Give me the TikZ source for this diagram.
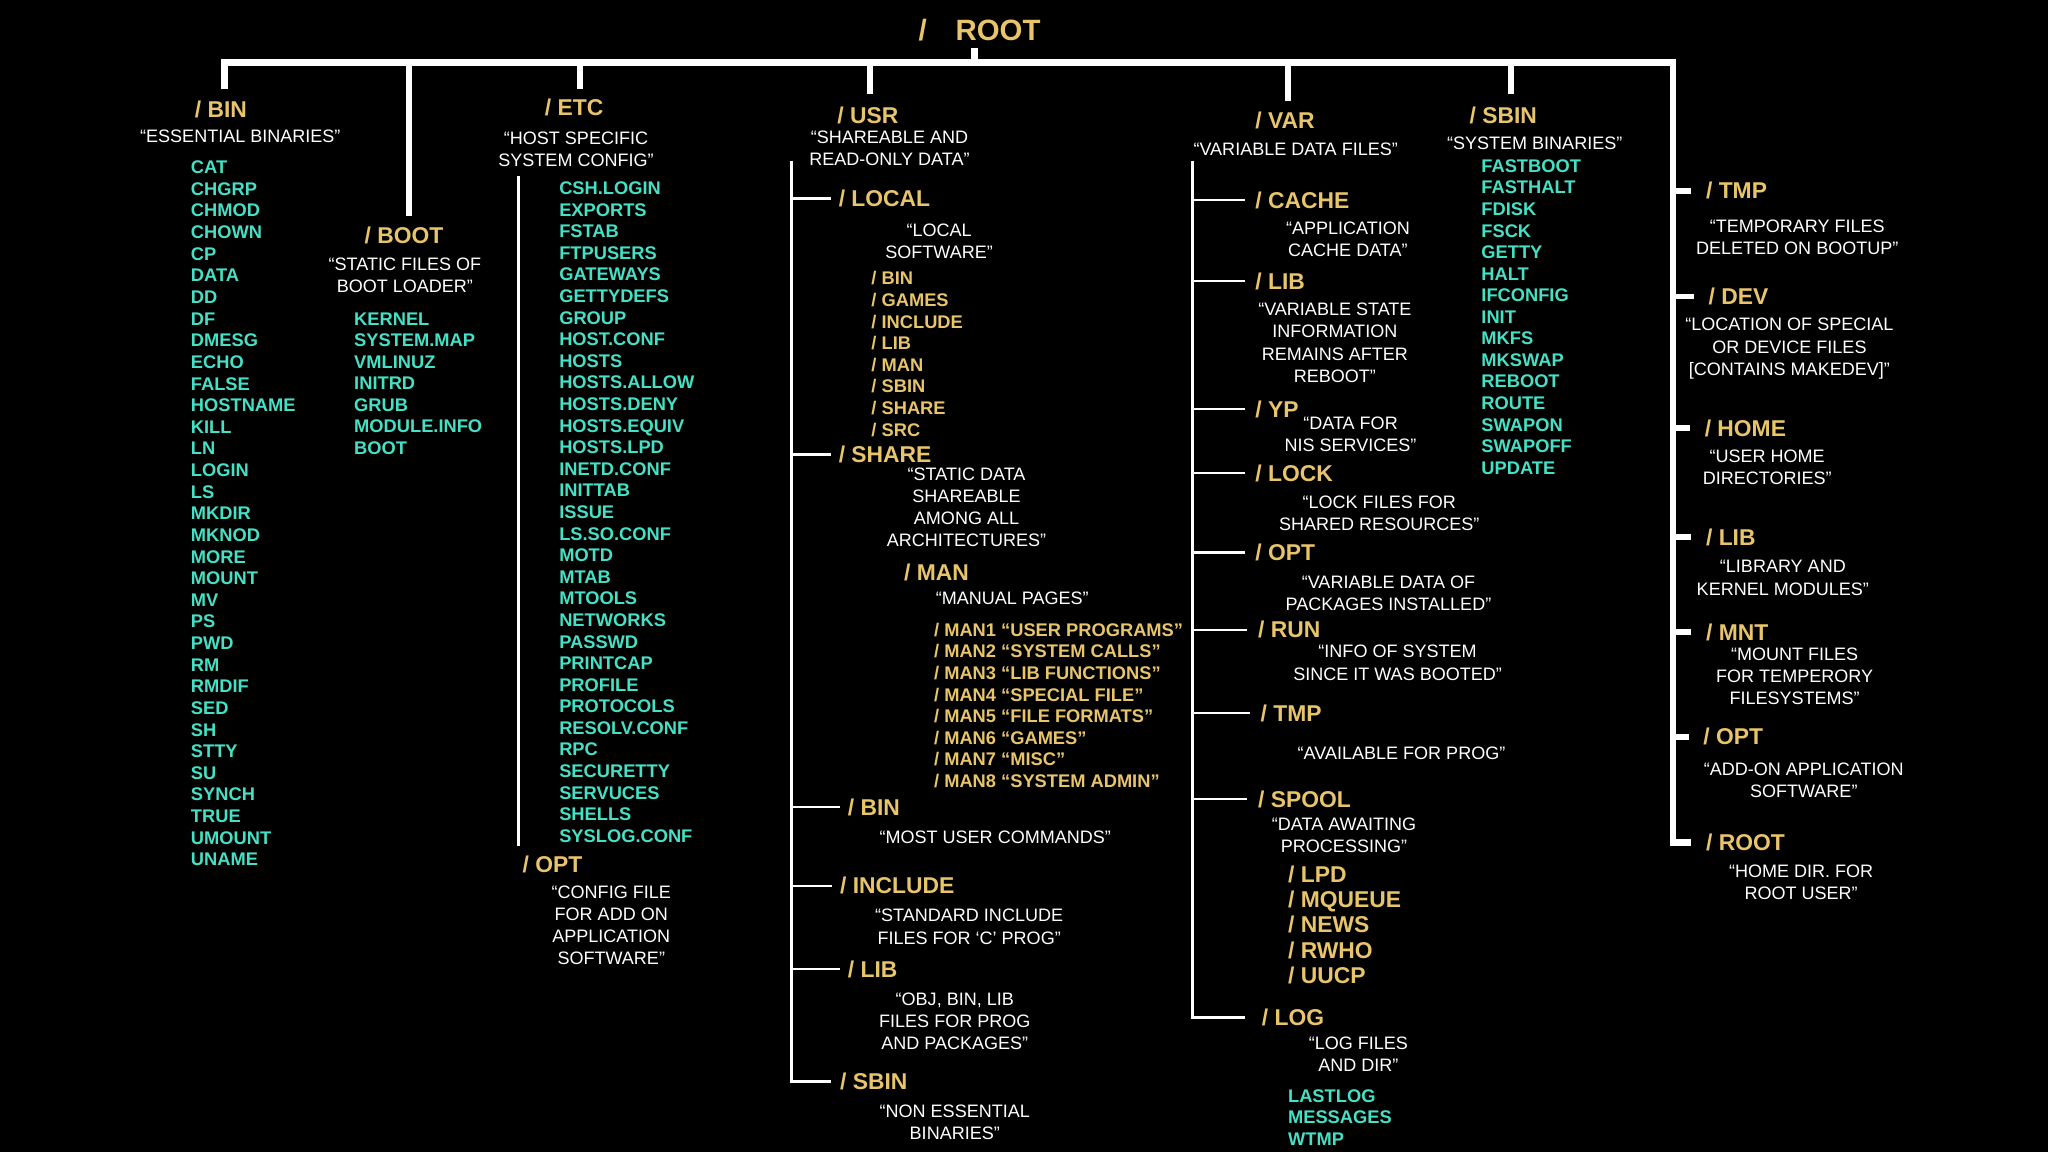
\documentclass[tikz,border=0pt]{standalone}
\usepackage{fontspec}
\setmainfont{Liberation Sans}
\definecolor{dirgold}{HTML}{E8C46A}
\definecolor{filecyan}{HTML}{45E0C5}
\tikzset{
	dir/.style={anchor=west,inner sep=0pt,text=dirgold,font=\fontsize{17.5}{20}\selectfont\bfseries,text height=12.6pt,text depth=0pt},
	subdir/.style={dir,font=\fontsize{14}{16}\selectfont\bfseries,text height=10pt},
	file/.style={anchor=west,inner sep=0pt,text=filecyan,font=\fontsize{14}{16}\selectfont\bfseries,text height=10pt,text depth=0pt},
	note/.style={inner sep=0pt,text=white,align=center,font=\fontsize{13.8}{17}\selectfont},
	trunk/.style={draw=white,line width=5pt},
	twig/.style={draw=white,line width=1.6pt}
}
\begin{document}
\begin{tikzpicture}[x=1pt,y=-1pt]
		\fill[black] (0,0) rectangle (1568,882);
		\useasboundingbox (0,0) rectangle (1568,882);
		\node[inner sep=0pt,text=dirgold,font=\fontsize{22.5}{26}\selectfont\bfseries] (root) at (750,23) {/\hspace{22pt}ROOT};
		\coordinate (rootStem) at (746,37);
		\coordinate (barL) at (172,48);
		\coordinate (barR) at (1281,48);
		\coordinate (binDrop) at (172,68);
		\coordinate (bootDrop) at (313,165);
		\coordinate (etcDrop) at (444,68);
		\coordinate (usrDrop) at (666,72);
		\coordinate (varDrop) at (986,77);
		\coordinate (sbinDrop) at (1157,72);
		\coordinate (etcTop) at (397,135);
		\coordinate (etcBot) at (397,648);
		\coordinate (usrTop) at (606,123);
		\coordinate (varTop) at (913,123);
		\node[dir] (bin) at (149,84) {/ BIN};
		\node[note] (bindesc) at (184,104) {“ESSENTIAL BINARIES”};
		\foreach \f [count=\i] in {CAT,CHGRP,CHMOD,CHOWN,CP,DATA,DD,DF,DMESG,ECHO,FALSE,HOSTNAME,KILL,LN,LOGIN,LS,MKDIR,MKNOD,MORE,MOUNT,MV,PS,PWD,RM,RMDIF,SED,SH,STTY,SU,SYNCH,TRUE,UMOUNT,UNAME}
			\node[file] (binf\i) at (146,{128+16.56*(\i-1)}) {\f};
		\node[dir] (boot) at (279,180) {/ BOOT};
		\node[note] (bootdesc) at (310,210.5) {“STATIC FILES OF\\BOOT LOADER”};
		\foreach \f [count=\i] in {KERNEL,SYSTEM.MAP,VMLINUZ,INITRD,GRUB,MODULE.INFO,BOOT}
			\node[file] (bootf\i) at (271,{244+16.5*(\i-1)}) {\f};
		\node[dir] (etc) at (417,82) {/ ETC};
		\node[note] (etcdesc) at (441,114.5) {“HOST SPECIFIC\\SYSTEM CONFIG”};
		\foreach \f [count=\i] in {CSH.LOGIN,EXPORTS,FSTAB,FTPUSERS,GATEWAYS,GETTYDEFS,GROUP,HOST.CONF,HOSTS,HOSTS.ALLOW,HOSTS.DENY,HOSTS.EQUIV,HOSTS.LPD,INETD.CONF,INITTAB,ISSUE,LS.SO.CONF,MOTD,MTAB,MTOOLS,NETWORKS,PASSWD,PRINTCAP,PROFILE,PROTOCOLS,RESOLV.CONF,RPC,SECURETTY,SERVUCES,SHELLS,SYSLOG.CONF}
			\node[file] (etcf\i) at (428,{144+16.53*(\i-1)}) {\f};
		\node[dir] (etcopt) at (400,662) {/ OPT};
		\node[note] (etcoptdesc) at (468,708.5) {“CONFIG FILE\\FOR ADD ON\\APPLICATION\\SOFTWARE”};
		\node[dir] (usr) at (641,88) {/ USR};
		\node[note] (usrdesc) at (681,113.5) {“SHAREABLE AND\\READ-ONLY DATA”};
		\node[dir] (uslocal) at (642,152) {/ LOCAL};
		\node[note] (uslocaldesc) at (719,184.5) {“LOCAL\\SOFTWARE”};
		\foreach \f [count=\i] in {BIN,GAMES,INCLUDE,LIB,MAN,SBIN,SHARE,SRC}
			\node[subdir] (uslocalf\i) at (667,{213+16.57*(\i-1)}) {/ \f};
		\node[dir] (usshare) at (642,348) {/ SHARE};
		\node[note] (ussharedesc) at (740,388.5) {“STATIC DATA\\SHAREABLE\\AMONG ALL\\ARCHITECTURES”};
		\node[dir] (usman) at (692,438) {/ MAN};
		\node[note] (usmandesc) at (775,458) {“MANUAL PAGES”};
		\foreach \f [count=\i] in {USER PROGRAMS,SYSTEM CALLS,LIB FUNCTIONS,SPECIAL FILE,FILE FORMATS,GAMES,MISC,SYSTEM ADMIN}
			\node[subdir] (usmanf\i) at (715,{482+16.57*(\i-1)}) {/ MAN\i\ “\f”};
		\node[dir] (usbin) at (649,618) {/ BIN};
		\node[note] (usbindesc) at (762,641) {“MOST USER COMMANDS”};
		\node[dir] (usinclude) at (643,678) {/ INCLUDE};
		\node[note] (usincludedesc) at (742,709.5) {“STANDARD INCLUDE\\FILES FOR ‘C’ PROG”};
		\node[dir] (uslib) at (649,742) {/ LIB};
		\node[note] (uslibdesc) at (731,782) {“OBJ, BIN, LIB\\FILES FOR PROG\\AND PACKAGES”};
		\node[dir] (ussbin) at (643,828) {/ SBIN};
		\node[note] (ussbindesc) at (731,859.5) {“NON ESSENTIAL\\BINARIES”};
		\node[dir] (var) at (961,92) {/ VAR};
		\node[note] (vardesc) at (992,114) {“VARIABLE DATA FILES”};
		\node[dir] (vacache) at (961,153) {/ CACHE};
		\node[note] (vacachedesc) at (1032,183) {“APPLICATION\\CACHE DATA”};
		\node[dir] (valib) at (961,215) {/ LIB};
		\node[note] (valibdesc) at (1022,262.5) {“VARIABLE STATE\\INFORMATION\\REMAINS AFTER\\REBOOT”};
		\node[dir] (vayp) at (961,313) {/ YP};
		\node[note] (vaypdesc) at (1034,332.5) {“DATA FOR\\NIS SERVICES”};
		\node[dir] (valock) at (961,362) {/ LOCK};
		\node[note] (valockdesc) at (1056,393) {“LOCK FILES FOR\\SHARED RESOURCES”};
		\node[dir] (vaopt) at (961,423) {/ OPT};
		\node[note] (vaoptdesc) at (1063,454) {“VARIABLE DATA OF\\PACKAGES INSTALLED”};
		\node[dir] (varun) at (963,482) {/ RUN};
		\node[note] (varundesc) at (1070,507.5) {“INFO OF SYSTEM\\SINCE IT WAS BOOTED”};
		\node[dir] (vatmp) at (965,546) {/ TMP};
		\node[note] (vatmpdesc) at (1073,577) {“AVAILABLE FOR PROG”};
		\node[dir] (vaspool) at (963,612) {/ SPOOL};
		\node[note] (vaspooldesc) at (1029,639.5) {“DATA AWAITING\\PROCESSING”};
		\foreach \f [count=\i] in {LPD,MQUEUE,NEWS,RWHO,UUCP}
			\node[dir] (vaspoolf\i) at (986,{669+19.5*(\i-1)}) {/ \f};
		\node[dir] (valog) at (966,779) {/ LOG};
		\node[note] (valogdesc) at (1040,807) {“LOG FILES\\AND DIR”};
		\foreach \f [count=\i] in {LASTLOG,MESSAGES,WTMP}
			\node[file] (valogf\i) at (986,{839+16.5*(\i-1)}) {\f};
		\node[dir] (sbin) at (1125,88) {/ SBIN};
		\node[note] (sbindesc) at (1175,110) {“SYSTEM BINARIES”};
		\foreach \f [count=\i] in {FASTBOOT,FASTHALT,FDISK,FSCK,GETTY,HALT,IFCONFIG,INIT,MKFS,MKSWAP,REBOOT,ROUTE,SWAPON,SWAPOFF,UPDATE}
			\node[file] (sbinf\i) at (1134,{127+16.5*(\i-1)}) {\f};
		\node[dir] (rtmp) at (1306,146) {/ TMP};
		\node[note] (rtmpdesc) at (1376,181.5) {“TEMPORARY FILES\\DELETED ON BOOTUP”};
		\node[dir] (rdev) at (1308,227) {/ DEV};
		\node[note] (rdevdesc) at (1370,267) {“LOCATION OF SPECIAL\\OR DEVICE FILES\\ {[}CONTAINS MAKEDEV]”};
		\node[dir] (rhome) at (1305,328) {/ HOME};
		\node[note] (rhomedesc) at (1353,357.5) {“USER HOME\\DIRECTORIES”};
		\node[dir] (rlib) at (1306,411) {/ LIB};
		\node[note] (rlibdesc) at (1365,442.5) {“LIBRARY AND\\KERNEL MODULES”};
		\node[dir] (rmnt) at (1306,484) {/ MNT};
		\node[note] (rmntdesc) at (1374,518) {“MOUNT FILES\\FOR TEMPERORY\\FILESYSTEMS”};
		\node[dir] (ropt) at (1304,564) {/ OPT};
		\node[note] (roptdesc) at (1381,597.5) {“ADD-ON APPLICATION\\SOFTWARE”};
		\node[dir] (rroot) at (1306,645) {/ ROOT};
		\node[note] (rrootdesc) at (1379,675.5) {“HOME DIR. FOR\\ROOT USER”};
		\draw[trunk] (rootStem) -- (rootStem |- barL);
		\draw[trunk,shorten >=11pt] (binDrop) |- (barR) |- (rroot.west);
		\foreach \c in {bootDrop,etcDrop,usrDrop,varDrop,sbinDrop}
			\draw[trunk] (barL -| \c) -- (\c);
		\foreach \n in {rtmp,rdev,rhome,rlib,rmnt,ropt}
			\draw[trunk,line width=4.5pt,shorten >=11pt] (barR |- \n.west) -- (\n.west);
		\draw[twig] (etcTop) -- (etcBot);
		\draw[twig,shorten >=7pt] (usrTop) |- (ussbin.west);
		\foreach \n in {uslocal,usshare,usbin,usinclude,uslib}
			\draw[twig,shorten >=6pt] (usrTop |- \n.west) -- (\n.west);
		\draw[twig,shorten >=13pt] (varTop) |- (valog.west);
		\foreach \n in {vacache,valib,vayp,valock,vaopt,varun,vatmp,vaspool}
			\draw[twig,shorten >=8pt] (varTop |- \n.west) -- (\n.west);
\end{tikzpicture}
\end{document}
